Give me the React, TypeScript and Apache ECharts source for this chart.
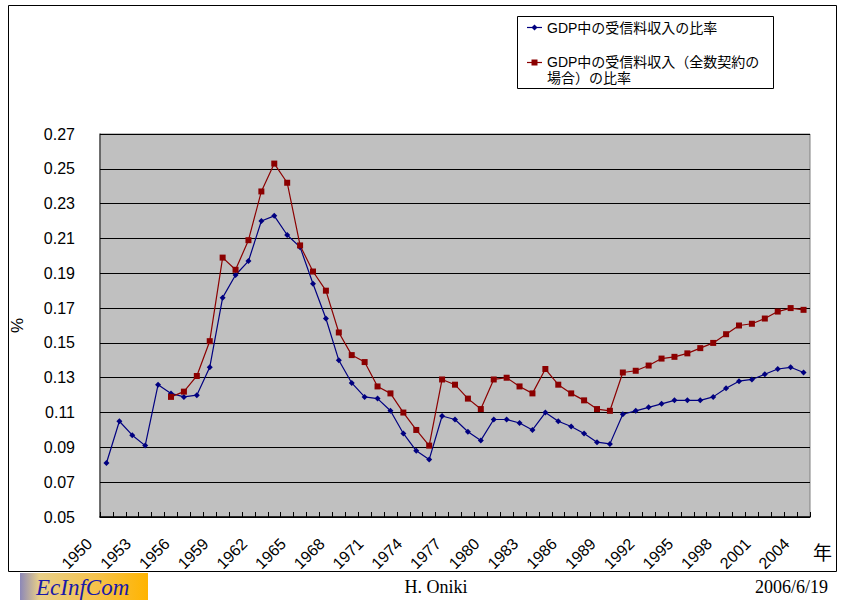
import React, { useEffect, useRef } from "react";
import * as echarts from "echarts";

const years: string[] = [];
for (let y = 1950; y <= 2004; y++) years.push(String(y));

const seriesNames = ["GDP中の受信料収入の比率", "GDP中の受信料収入（全数契約の場合）の比率"];

const ratioValues = [
  0.081, 0.105, 0.097, 0.091, 0.126, 0.121, 0.119, 0.120, 0.136, 0.176,
  0.189, 0.197, 0.220, 0.223, 0.212, 0.205, 0.184, 0.164, 0.140, 0.127,
  0.119, 0.118, 0.111, 0.098, 0.088, 0.083, 0.108, 0.106, 0.099, 0.094,
  0.106, 0.106, 0.104, 0.100, 0.110, 0.105, 0.102, 0.098, 0.093, 0.092,
  0.109, 0.111, 0.113, 0.115, 0.117, 0.117, 0.117, 0.119, 0.124, 0.128,
  0.129, 0.132, 0.135, 0.136, 0.133,
];

const fullContractValues = [
  null, null, null, null, null, 0.119, 0.122, 0.131, 0.151, 0.199,
  0.192, 0.209, 0.237, 0.253, 0.242, 0.206, 0.191, 0.180, 0.156, 0.143,
  0.139, 0.125, 0.121, 0.110, 0.100, 0.091, 0.129, 0.126, 0.118, 0.112,
  0.129, 0.130, 0.125, 0.121, 0.135, 0.126, 0.121, 0.117, 0.112, 0.111,
  0.133, 0.134, 0.137, 0.141, 0.142, 0.144, 0.147, 0.150, 0.155, 0.160,
  0.161, 0.164, 0.168, 0.170, 0.169,
];

const yMin = 0.05;
const yMax = 0.27;
const yStep = 0.02;

const BLUE = "#000080";
const RED = "#8b0000";
const SANS = "'Liberation Sans', Arial, 'Noto Sans CJK JP', sans-serif";
const JP = "'Liberation Sans', 'Noto Sans CJK JP', sans-serif";
const SERIF = "'Liberation Serif', 'DejaVu Serif', serif";

export default function App() {
  const ref = useRef<HTMLDivElement>(null);
  useEffect(() => {
    if (!ref.current) return;
    const chart = echarts.init(ref.current, undefined, { renderer: "svg" });
    chart.setOption({
      animation: false,
      backgroundColor: "#ffffff",
      grid: {
        left: 100,
        right: 31,
        top: 134,
        bottom: 83,
        containLabel: false,
        outerBoundsMode: "none",
        show: true,
        backgroundColor: "#c0c0c0",
        borderColor: "#808080",
        borderWidth: 1,
      },
      xAxis: {
        type: "category",
        data: years,
        boundaryGap: true,
        axisLine: { lineStyle: { color: "#000", width: 1.5 } },
        axisTick: { show: true, inside: true, length: 5, interval: 0, lineStyle: { color: "#000" } },
        axisLabel: {
          interval: 2,
          rotate: 45,
          margin: 7,
          padding: [0, 24, 0, 0],
          fontSize: 16,
          color: "#000",
          fontFamily: SANS,
        },
        splitLine: { show: false },
      },
      yAxis: {
        type: "value",
        min: yMin,
        max: yMax,
        interval: yStep,
        name: "%",
        nameLocation: "middle",
        nameGap: 74,
        nameRotate: 90,
        nameTextStyle: { fontSize: 17, color: "#000", fontFamily: SANS },
        axisLine: { show: true, lineStyle: { color: "#555", width: 1.5 } },
        axisTick: { show: true, inside: true, length: 4, lineStyle: { color: "#000" } },
        axisLabel: {
          margin: 25,
          fontSize: 16,
          color: "#000",
          fontFamily: SANS,
          formatter: (v: number) => v.toFixed(2),
        },
        splitLine: { show: true, lineStyle: { color: "#000", width: 1 } },
      },
      series: [
        {
          name: seriesNames[0],
          type: "line",
          data: ratioValues,
          symbol: "diamond",
          symbolSize: 6,
          lineStyle: { color: BLUE, width: 1.2 },
          itemStyle: { color: BLUE },
        },
        {
          name: seriesNames[1],
          type: "line",
          data: fullContractValues,
          symbol: "rect",
          symbolSize: 6,
          lineStyle: { color: RED, width: 1.2 },
          itemStyle: { color: RED },
        },
      ],
      graphic: [
        {
          type: "rect",
          z: -10,
          silent: true,
          shape: { x: 8.5, y: 5.5, width: 828, height: 566 },
          style: { fill: "none", stroke: "#000", lineWidth: 1 },
        },
        {
          type: "group",
          children: [
            {
              type: "rect",
              shape: { x: 517.5, y: 16.5, width: 256, height: 72 },
              style: { fill: "#fff", stroke: "#000", lineWidth: 1 },
            },
            {
              type: "line",
              shape: { x1: 527, y1: 27.5, x2: 542, y2: 27.5 },
              style: { stroke: BLUE, lineWidth: 1.2 },
            },
            {
              type: "polygon",
              shape: { points: [[534.5, 24.5], [537.5, 27.5], [534.5, 30.5], [531.5, 27.5]] },
              style: { fill: BLUE },
            },
            {
              type: "text",
              style: {
                x: 547,
                y: 28,
                text: seriesNames[0],
                fontSize: 14,
                fontFamily: JP,
                fill: "#000",
                verticalAlign: "middle",
              },
            },
            {
              type: "line",
              shape: { x1: 527, y1: 62.5, x2: 542, y2: 62.5 },
              style: { stroke: RED, lineWidth: 1.2 },
            },
            {
              type: "rect",
              shape: { x: 531.5, y: 59.5, width: 6, height: 6 },
              style: { fill: RED },
            },
            {
              type: "text",
              style: {
                x: 547,
                y: 54,
                text: "GDP中の受信料収入（全数契約の\n場合）の比率",
                fontSize: 14,
                lineHeight: 16,
                fontFamily: JP,
                fill: "#000",
                verticalAlign: "top",
              },
            },
          ],
        },
        {
          type: "text",
          style: {
            x: 813,
            y: 553,
            text: "年",
            fontSize: 19,
            fontFamily: JP,
            fill: "#000",
            verticalAlign: "middle",
          },
        },
        {
          type: "rect",
          shape: { x: 20, y: 573, width: 128, height: 27 },
          style: {
            fill: new echarts.graphic.LinearGradient(0, 0, 1, 0, [
              { offset: 0, color: "#8c88b8" },
              { offset: 0.15, color: "#e8cf88" },
              { offset: 0.6, color: "#f6c24a" },
              { offset: 1, color: "#ffb400" },
            ]),
          },
        },
        {
          type: "text",
          style: {
            x: 36,
            y: 587,
            text: "EcInfCom",
            fontSize: 23,
            fontStyle: "italic",
            fontFamily: SERIF,
            fill: "#1a1aa8",
            verticalAlign: "middle",
          },
        },
        {
          type: "text",
          style: {
            x: 436,
            y: 587,
            text: "H. Oniki",
            fontSize: 18,
            fontFamily: SERIF,
            fill: "#000",
            align: "center",
            verticalAlign: "middle",
          },
        },
        {
          type: "text",
          style: {
            x: 828,
            y: 587,
            text: "2006/6/19",
            fontSize: 18,
            fontFamily: SERIF,
            fill: "#000",
            align: "right",
            verticalAlign: "middle",
          },
        },
      ],
    });
    return () => chart.dispose();
  }, []);
  return (
    <div
      ref={ref}
      style={{ position: "fixed", left: 0, top: 0, width: 841, height: 600 }}
    />
  );
}
